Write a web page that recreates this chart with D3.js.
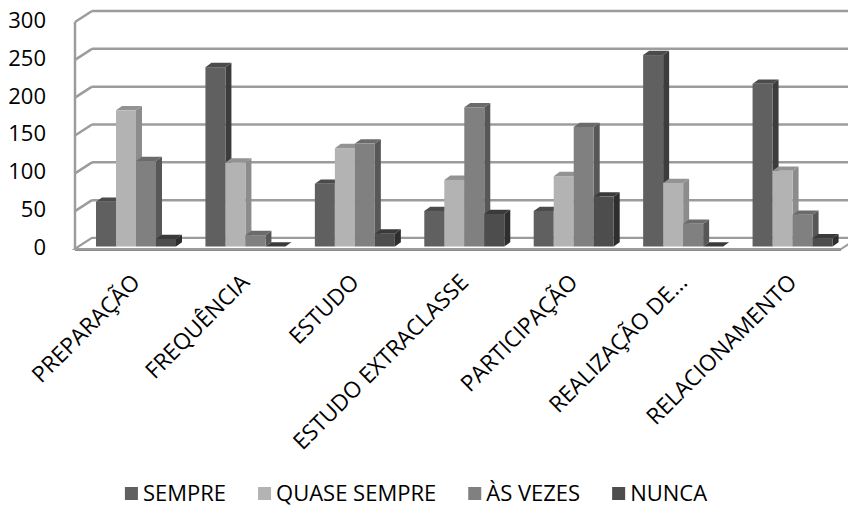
<!DOCTYPE html>
<html>
<head>
<meta charset="utf-8">
<script src="https://cdn.jsdelivr.net/npm/d3@7"></script>
<style>
  html, body { margin: 0; padding: 0; background: #ffffff; }
  svg { display: block; }
  text { font-family: "Open Sans", "Noto Sans", sans-serif; fill: #000; }
</style>
</head>
<body>
<svg id="chart" width="848" height="521"></svg>
<script>
// Categories, series and values
const categories = ["PREPARAÇÃO", "FREQUÊNCIA", "ESTUDO", "ESTUDO EXTRACLASSE", "PARTICIPAÇÃO", "REALIZAÇÃO DE...", "RELACIONAMENTO"];
const seriesNames = ["SEMPRE", "QUASE SEMPRE", "ÀS VEZES", "NUNCA"];
const sempre      = [59, 237, 83, 47, 47, 253, 215];
const quaseSempre = [180, 111, 130, 88, 93, 84, 100];
const asVezes     = [113, 15, 136, 184, 158, 30, 42];
const nunca       = [10, 0, 17, 43, 66, 0, 11];
const yTicks = [0, 50, 100, 150, 200, 250, 300];

const seriesValues = [sempre, quaseSempre, asVezes, nunca];
// front face, top face, side face colours for each series
const faceColors = [
  { front: "#606060", top: "#4b4b4b", side: "#3c3c3c" },
  { front: "#b3b3b3", top: "#939393", side: "#8c8c8c" },
  { front: "#808080", top: "#6b6b6b", side: "#575757" },
  { front: "#4d4d4d", top: "#3a3a3a", side: "#2e2e2e" }
];

const svg = d3.select("#chart");

// Oblique 3D geometry
const frontLeft = 75, frontRight = 841;
const wallDx = 17, wallDy = -11;       // offset of the back wall from the front edge
const barDx = 4, barDy = -2.5;         // plane where the bar fronts stand
const depthDx = 6, depthDy = -4.3;     // bar depth

const y = d3.scaleLinear().domain([0, 300]).range([249, 22]);

const x = d3.scaleBand().domain(categories).range([frontLeft, frontRight]).paddingInner(0).paddingOuter(0);
const xs = d3.scaleBand().domain(seriesNames).range([17, 97]).padding(0);

// Back wall and left wall gridlines
const grid = svg.append("g");
yTicks.forEach(t => {
  const yf = y(t), yb = y(t) + wallDy;
  grid.append("line")
    .attr("x1", frontLeft + wallDx).attr("y1", yb)
    .attr("x2", frontRight + wallDx).attr("y2", yb)
    .attr("stroke", "#9c9c9c").attr("stroke-width", 2.5);
  grid.append("line")
    .attr("x1", frontLeft).attr("y1", yf)
    .attr("x2", frontLeft + wallDx).attr("y2", yb)
    .attr("stroke", "#9c9c9c").attr("stroke-width", 2.5);
});
// Left wall front edge
grid.append("line")
  .attr("x1", frontLeft).attr("y1", y(300))
  .attr("x2", frontLeft).attr("y2", y(0))
  .attr("stroke", "#9c9c9c").attr("stroke-width", 2.5);

// Floor
const y0 = y(0);
svg.append("path")
  .attr("d", `M${frontLeft},${y0} L${frontRight},${y0} L${frontRight + wallDx},${y0 + wallDy} L${frontLeft + wallDx},${y0 + wallDy} Z`)
  .attr("fill", "#ffffff").attr("stroke", "#9c9c9c").attr("stroke-width", 2);
svg.append("line")
  .attr("x1", frontLeft).attr("y1", y0 + 1.5).attr("x2", frontRight).attr("y2", y0 + 1.5)
  .attr("stroke", "#8c8c8c").attr("stroke-width", 1.2);

// Bars, drawn left to right so each front face covers the previous side face
const bars = svg.append("g");
categories.forEach((cat, ci) => {
  seriesNames.forEach((s, si) => {
    const v = seriesValues[si][ci];
    const bx = x(cat) + xs(s) + barDx;
    const bw = xs.bandwidth();
    const yb = y(0) + barDy;
    const yt = y(v) + barDy;
    const c = faceColors[si];
    const g = bars.append("g");
    // side face
    g.append("path")
      .attr("d", `M${bx + bw},${yt} L${bx + bw + depthDx},${yt + depthDy} L${bx + bw + depthDx},${yb + depthDy} L${bx + bw},${yb} Z`)
      .attr("fill", c.side);
    // top face
    g.append("path")
      .attr("d", `M${bx},${yt} L${bx + depthDx},${yt + depthDy} L${bx + bw + depthDx},${yt + depthDy} L${bx + bw},${yt} Z`)
      .attr("fill", c.top);
    // front face
    g.append("rect")
      .attr("x", bx).attr("y", yt)
      .attr("width", bw).attr("height", Math.max(0, yb - yt))
      .attr("fill", c.front);
  });
});

// Value axis labels
const yAxis = svg.append("g");
yTicks.forEach(t => {
  yAxis.append("text")
    .attr("x", 46).attr("y", y(t) - 2)
    .attr("text-anchor", "end")
    .attr("dy", "0.36em")
    .style("font-size", "22px")
    .text(t);
});

// Category labels, rotated
const xAxis = svg.append("g");
categories.forEach(cat => {
  const cx = x(cat) + x.bandwidth() / 2 + 6;
  const cy = 278;
  xAxis.append("text")
    .attr("transform", `translate(${cx},${cy}) rotate(-45)`)
    .attr("text-anchor", "end")
    .attr("dy", "0.36em")
    .style("font-size", "22.5px")
    .text(cat);
});

// Legend: items laid out left to right with equal gaps, centred
const legendFont = 22;
const legend = svg.append("g");
const items = legend.selectAll("g").data(seriesNames).join("g");
items.append("rect")
  .attr("y", 487).attr("width", 13).attr("height", 13)
  .attr("fill", (d, i) => faceColors[i].front);
items.append("text")
  .attr("x", 18).attr("y", 501)
  .style("font-size", legendFont + "px")
  .text(d => d);
let cursor = 0;
const gap = 32;
const offsets = [];
items.each(function () {
  const w = 18 + this.querySelector("text").getComputedTextLength();
  offsets.push(cursor);
  cursor += w + gap;
});
const totalW = cursor - gap;
const startX = 416 - totalW / 2;
items.attr("transform", (d, i) => `translate(${startX + offsets[i]},0)`);
</script>
</body>
</html>
